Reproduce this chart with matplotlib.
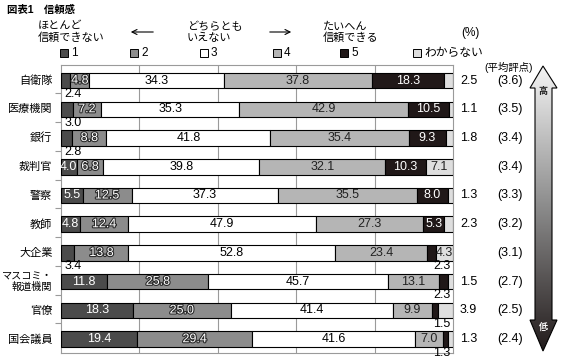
import matplotlib
matplotlib.use("Agg")
import matplotlib.pyplot as plt
import matplotlib.patheffects as pe
from matplotlib.patches import Polygon, Rectangle
from matplotlib.colors import LinearSegmentedColormap
import numpy as np

plt.rcParams['font.family'] = ['Liberation Sans', 'Noto Sans CJK JP']

categories = ['自衛隊', '医療機関', '銀行', '裁判官', '警察', '教師', '大企業',
              'マスコミ・\n報道機関', '官僚', '国会議員']
s1 = [2.4, 3.0, 2.8, 4.0, 5.5, 4.8, 3.4, 11.8, 18.3, 19.4]
s2 = [4.8, 7.2, 8.8, 6.8, 12.5, 12.4, 13.8, 25.8, 25.0, 29.4]
s3 = [34.3, 35.3, 41.8, 39.8, 37.3, 47.9, 52.8, 45.7, 41.4, 41.6]
s4 = [37.8, 42.9, 35.4, 32.1, 35.5, 27.3, 23.4, 13.1, 9.9, 7.0]
s5 = [18.3, 10.5, 9.3, 10.3, 8.0, 5.3, 2.3, 2.3, 1.5, 1.3]
dk = [2.5, 1.1, 1.8, 7.1, 1.3, 2.3, 4.3, 1.5, 3.9, 1.3]
avg = [3.6, 3.5, 3.4, 3.4, 3.3, 3.2, 3.1, 2.7, 2.5, 2.4]
legend_labels = ['1', '2', '3', '4', '5', 'わからない']

series = [s1, s2, s3, s4, s5, dk]
colors = ['#4b4b4b', '#8c8c8c', '#ffffff', '#b5b5b5', '#201818', '#dedede']
txtcol = ['white', 'white', 'black', '#222222', 'white', '#222222']

W, H = 569, 361
fig = plt.figure(figsize=(W / 100, H / 100), dpi=100)
ax = fig.add_axes([61 / W, 1 - 353 / H, 392 / W, 288 / H])

y = np.arange(len(categories))
left = np.zeros(len(categories))
FS = 9
outline = [pe.withStroke(linewidth=1.6, foreground='#2a2a2a')]
for k, (vals, c) in enumerate(zip(series, colors)):
    vals = np.array(vals)
    ax.barh(y, vals, left=left, height=0.54, color=c, edgecolor='black',
            linewidth=0.8, zorder=3)
    for i, v in enumerate(vals):
        cx = left[i] + v / 2
        if k == 0 and v < 3.5:
            ax.text(0.8, i + 0.47, f'{v:.1f}', ha='left', va='center',
                    fontsize=FS, color='black', zorder=5)
        elif k == 4 and v < 3.0:
            ax.text(99.3, i + 0.47, f'{v:.1f}', ha='right', va='center',
                    fontsize=FS, color='black', zorder=5)
        elif k == 5 and v < 4.0:
            ax.text(101.8, i, f'{v:.1f}', ha='left', va='center',
                    fontsize=FS, color='black', clip_on=False)
        else:
            kw = {}
            if k == 1:
                kw['path_effects'] = outline
            ax.text(cx, i, f'{v:.1f}', ha='center', va='center',
                    fontsize=FS, color=txtcol[k], zorder=5, **kw)
    left = left + vals

for i, (cat, a) in enumerate(zip(categories, avg)):
    fs = 7.3 if '\n' in cat else 8
    ax.text(-2.2, i, cat, ha='right', va='center', fontsize=fs,
            linespacing=1.05, clip_on=False)
    ax.text(114.5, i, f'({a:.1f})', ha='center', va='center',
            fontsize=FS, clip_on=False)

ax.set_xlim(0, 100)
ax.set_ylim(9.48, -0.54)
ax.set_xticks([20, 40, 60, 80])
ax.xaxis.grid(True, color='#9a9a9a', linewidth=0.8, zorder=0)
ax.set_axisbelow(True)
ax.tick_params(axis='x', length=0, labelbottom=False)
ax.set_yticks(np.arange(9) + 0.45)
ax.tick_params(axis='y', length=4, color='#9a9a9a', width=0.8,
               labelleft=False)
for s in ax.spines.values():
    s.set_color('#9a9a9a')
    s.set_linewidth(0.8)

# overlay in pixel coordinates for header and arrow
ov = fig.add_axes([0, 0, 1, 1])
ov.set_xlim(0, W)
ov.set_ylim(H, 0)
ov.axis('off')
ov.patch.set_visible(False)

ov.text(7, 10, '図表1　信頼感', fontsize=7.5, fontweight='bold',
        ha='left', va='center')
ov.text(38, 32, 'ほとんど\n信頼できない', fontsize=8, ha='left', va='center',
        linespacing=1.1)
ov.text(187, 32, 'どちらとも\nいえない', fontsize=8, ha='left', va='center',
        linespacing=1.1)
ov.text(323, 32, 'たいへん\n信頼できる', fontsize=8, ha='left', va='center',
        linespacing=1.1)
ov.text(470, 33, '(%)', fontsize=8.5, ha='center', va='center')
ov.annotate('', xy=(128, 32), xytext=(156, 32),
            arrowprops=dict(arrowstyle='->', lw=0.8, color='black',
                            mutation_scale=9))
ov.annotate('', xy=(294, 32), xytext=(267, 32),
            arrowprops=dict(arrowstyle='->', lw=0.8, color='black',
                            mutation_scale=9))

leg_x = [60, 130, 200, 273, 340, 413]
for lx, lab, c in zip(leg_x, legend_labels, colors):
    ov.add_patch(Rectangle((lx, 49), 8, 8, facecolor=c, edgecolor='black',
                           linewidth=0.7))
    ov.text(lx + 11, 53, lab, fontsize=8.5, ha='left', va='center')

ov.text(509, 67, '(平均評点)', fontsize=7.5, ha='center', va='center')

# gradient double arrow
pts = [(543, 66), (530, 88), (535, 88), (535, 320), (530, 320), (543, 351),
       (557, 320), (552, 320), (552, 88), (557, 88)]
poly = Polygon(pts, closed=True, facecolor='none', edgecolor='black',
               linewidth=0.8, zorder=4)
ov.add_patch(poly)
grad = np.linspace(0, 1, 256).reshape(-1, 1)
cmap = LinearSegmentedColormap.from_list('g', ['#f4f4f4', '#8a8a8a', '#231c1c'])
im = ov.imshow(grad, cmap=cmap, extent=(530, 557, 351, 66), aspect='auto',
               zorder=3)
im.set_clip_path(poly)
ov.set_xlim(0, W)
ov.set_ylim(H, 0)
ov.text(543, 91, '高', fontsize=6.5, fontweight='bold', ha='center',
        va='center', color='#222222', zorder=5)
ov.text(543, 328, '低', fontsize=6.5, fontweight='bold', ha='center',
        va='center', color='white', zorder=5)

fig.savefig('out.png', dpi=100)
